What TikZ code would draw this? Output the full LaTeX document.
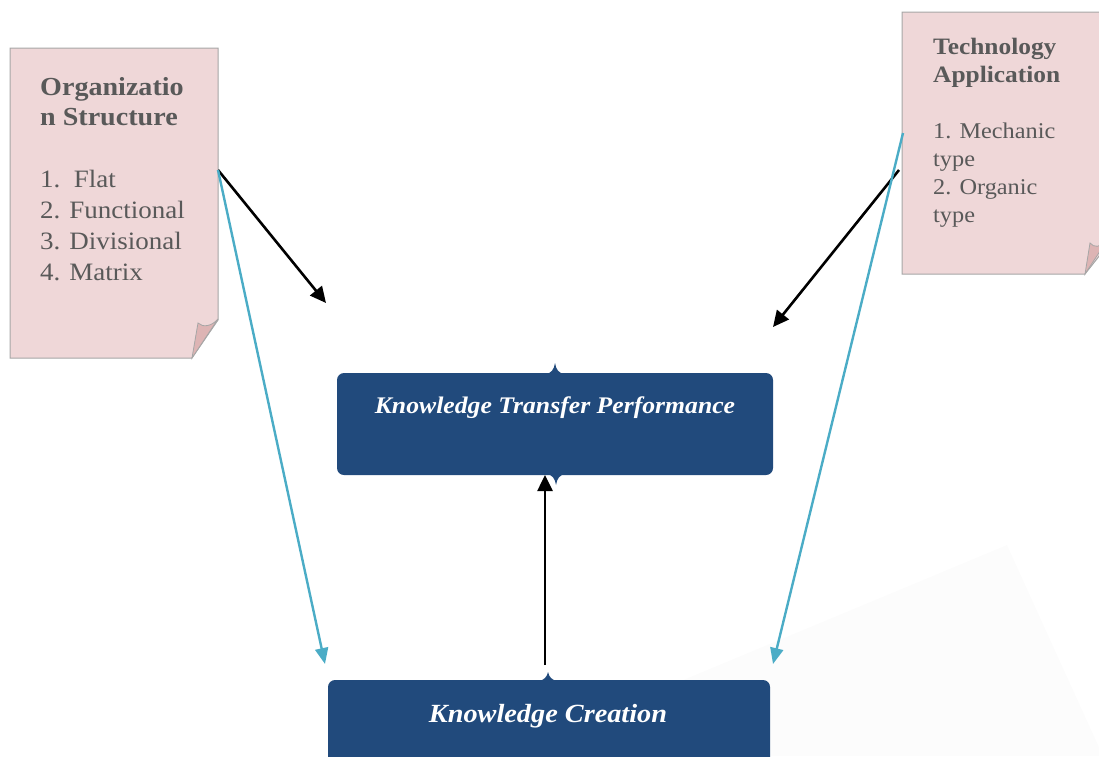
\documentclass[tikz,border=0pt]{standalone}
\usepackage{fontspec}
\setmainfont{Liberation Serif}[FakeStretch=1.08]
\usetikzlibrary{arrows.meta}
\definecolor{notefill}{HTML}{EFD7D8}
\definecolor{noteline}{HTML}{A6A6A6}
\definecolor{flapfill}{HTML}{DDB4B4}
\definecolor{notetext}{HTML}{595959}
\definecolor{boxblue}{HTML}{214A7C}
\definecolor{linkcyan}{HTML}{4BACC6}
\definecolor{faint}{HTML}{FCFCFC}
\tikzset{
  note/.style={fill=notefill, draw=noteline, line width=1pt},
  flap/.style={fill=flapfill, draw=noteline, line width=0.8pt},
  headL/.style={anchor=base west, inner sep=0pt, text=notetext, font=\bfseries\fontsize{26}{30}\selectfont},
  listL/.style={anchor=base west, inner sep=0pt, text=notetext, font=\fontsize{25}{31}\selectfont},
  headR/.style={anchor=base west, inner sep=0pt, text=notetext, font=\bfseries\fontsize{23.5}{28}\selectfont},
  listR/.style={anchor=base west, inner sep=0pt, text=notetext, font=\fontsize{22.5}{28}\selectfont},
  bluebox/.style={fill=boxblue, draw=none, rounded corners=7pt, inner sep=0pt},
  boxtext/.style={anchor=base, inner sep=0pt, text=white},
  blackarrow/.style={draw=black, line width=2.6pt, -{Triangle[length=16pt,width=15pt]}},
  cyanarrow/.style={draw=linkcyan, line width=2.4pt, -{Triangle[length=16pt,width=13pt]}}
}
\begin{document}
\begin{tikzpicture}[x=1pt,y=-1pt]
\useasboundingbox (0,0) rectangle (1099,756);
\clip (0,0) rectangle (1099,756);
% faint watermark
\fill[faint] (501,756) -- (1007,545) -- (1103,756) -- cycle;

% left note
\path[note] (10,48) -- (218,48) -- (218,320) -- (192,358) -- (10,358) -- cycle;
\path[flap] (192,358) -- (198,323) .. controls (203,328) and (212,326) .. (218,319) -- cycle;
\node[headL] (orghead1) at (40,95) {Organizatio};
\node[headL] (orghead2) at (40,125) {n Structure};
\node[listL] (orgitem1) at (40,187) {1.\ \ Flat};
\node[listL] (orgitem2) at (40,218) {2. Functional};
\node[listL] (orgitem3) at (40,249) {3. Divisional};
\node[listL] (orgitem4) at (40,280) {4. Matrix};

% right note
\path[note] (902,12) -- (1115,12) -- (1115,236) -- (1085,274) -- (902,274) -- cycle;
\path[flap] (1085,274) -- (1090,243) .. controls (1094,248) and (1100,247) .. (1106,242) -- cycle;
\node[headR] (techhead1) at (933,54) {Technology};
\node[headR] (techhead2) at (933,82) {Application};
\node[listR] (techitem1) at (933,138) {1. Mechanic};
\node[listR] (techitem1b) at (933,166) {type};
\node[listR] (techitem2) at (933,194) {2. Organic};
\node[listR] (techitem2b) at (933,222) {type};

% blue boxes
\node[bluebox, minimum width=436pt, minimum height=102pt] (ktp) at (555,424) {};
\fill[boxblue] (546,374) .. controls (551,373) and (554,370) .. (555,363) .. controls (556,370) and (559,373) .. (564,374) -- cycle;
\fill[boxblue] (547,474) .. controls (552,475) and (555,478) .. (556,485) .. controls (557,478) and (560,475) .. (565,474) -- cycle;
\node[boxtext, font=\bfseries\itshape\fontsize{23.8}{28}\selectfont] (ktptext) at (555,413) {Knowledge Transfer Performance};

\node[bluebox, minimum width=442pt, minimum height=120pt] (kc) at (549,740) {};
\fill[boxblue] (539,681) .. controls (544,680) and (547,677) .. (548,672) .. controls (549,677) and (552,680) .. (557,681) -- cycle;
\node[boxtext, font=\bfseries\itshape\fontsize{26.2}{30}\selectfont] (kctext) at (548,722) {Knowledge Creation};

% connector endpoints
\coordinate (orgout) at (218,170);
\coordinate (techoutA) at (899,170);
\coordinate (techoutB) at (903,133);
\coordinate (ktpinL) at (326,303);
\coordinate (ktpinR) at (773,327);
\coordinate (kcinL) at (325,664);
\coordinate (kcinR) at (773,664);
\coordinate (kcout) at (545,665);
\coordinate (ktpbottom) at (545,475);

\draw[blackarrow] (orgout) -- (ktpinL);
\draw[cyanarrow] (orgout) -- (kcinL);
\draw[blackarrow] (techoutA) -- (ktpinR);
\draw[cyanarrow] (techoutB) -- (kcinR);
\draw[blackarrow] (kcout) -- (ktpbottom);
\end{tikzpicture}
\end{document}
